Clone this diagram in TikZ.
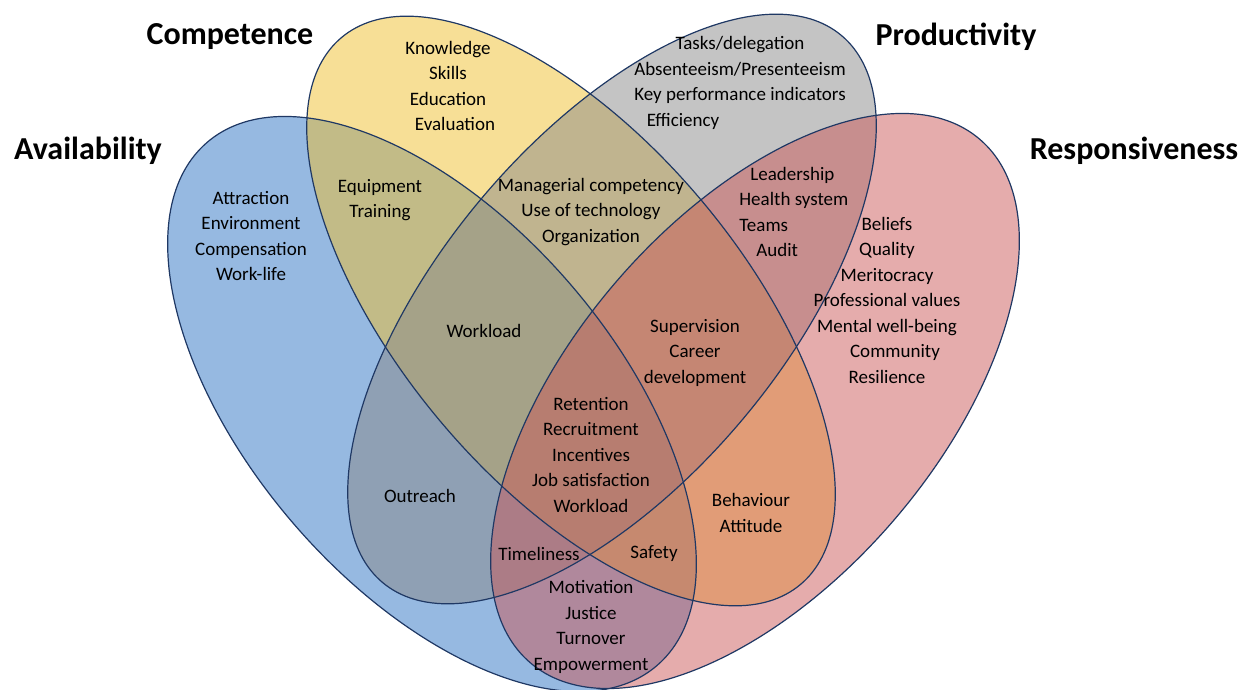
\documentclass[tikz,border=0pt]{standalone}
\usepackage{fontspec}
\setmainfont{Carlito}
\usepackage{tikz}
\definecolor{availblue}{RGB}{45,115,195}
\definecolor{compyellow}{RGB}{239,191,45}
\definecolor{prodgray}{RGB}{137,137,137}
\definecolor{respred}{RGB}{203,89,89}
\definecolor{rim}{RGB}{31,56,100}
\pgfdeclarelayer{edgelayer}
\pgfdeclarelayer{nodelayer}
\pgfsetlayers{edgelayer,nodelayer,main}
\tikzstyle{petal}=[fill opacity=0.5]
\tikzstyle{rimline}=[draw=rim, line width=0.6pt]
\tikzstyle{item}=[align=center, inner sep=0pt, font=\fontsize{9.5pt}{12.75pt}\selectfont]
\tikzstyle{head}=[inner sep=0pt, font=\bfseries\fontsize{16pt}{19pt}\selectfont]

\begin{document}
\begin{tikzpicture}[x=0.5pt, y=0.5pt]
        \useasboundingbox (0, 0) rectangle (1258, 690);
        \begin{pgfonlayer}{nodelayer}
            \node [style = head] (avail) at (88, 539) {Availability};
            \node [style = head] (comp) at (230, 653) {Competence};
            \node [style = head] (prod) at (956, 653) {Productivity};
            \node [style = head] (resp) at (1134, 539) {Responsiveness};

            \node [style = item] (know) at (448, 604) {Knowledge\\Skills\\Education\\\hspace*{7pt}Evaluation};
            \node [style = item] (tasks) at (740, 607) {Tasks/delegation\\Absenteeism/Presenteeism\\Key performance indicators\\Efficiency\hspace*{57pt}};
            \node [style = item] (attr) at (251, 454) {Attraction\\Environment\\Compensation\\Work-life};
            \node [style = item] (equip) at (380, 490) {Equipment\\Training};
            \node [style = item] (manag) at (591, 478) {Managerial competency\\Use of technology\\Organization};
            \node [style = item, align=left, anchor=west] (lead) at (739, 478) {\hspace*{5.5pt}Leadership\\Health system\\Teams\\\hspace*{8.5pt}Audit};
            \node [style = item] (beliefs) at (887, 390) {Beliefs\\Quality\\Meritocracy\hspace*{14pt}\\Professional values\\Mental well-being\\\hspace*{8pt}Community\\Resilience};

            \node [style = item] (work) at (484, 359) {Workload};
            \node [style = item] (superv) at (695, 337) {Supervision\\Career\\development};
            \node [style = item] (reten) at (591, 235) {Retention\\Recruitment\\Incentives\\Job satisfaction\\Workload};
            \node [style = item] (outr) at (420, 194) {Outreach};
            \node [style = item] (behav) at (751, 177) {Behaviour\\Attitude};
            \node [style = item] (timel) at (539, 136) {Timeliness};
            \node [style = item] (safe) at (654, 136) {Safety};
            \node [style = item] (motiv) at (591, 63) {Motivation\\Justice\\Turnover\\Empowerment};
        \end{pgfonlayer}

        \begin{pgfonlayer}{edgelayer}
            \fill [petal, availblue, rotate around={-49.3:(432, 286)}] (432, 286) ellipse [x radius=345, y radius=183];
            \fill [petal, compyellow, rotate around={-50:(571, 379)}] (571, 379) ellipse [x radius=357, y radius=171];
            \fill [petal, prodgray, rotate around={50:(612, 381)}] (612, 381) ellipse [x radius=357, y radius=171];
            \fill [petal, respred, rotate around={49.3:(755, 289)}] (755, 289) ellipse [x radius=345, y radius=183];

            \draw [rimline, rotate around={-49.3:(432, 286)}] (432, 286) ellipse [x radius=345, y radius=183];
            \draw [rimline, rotate around={-50:(571, 379)}] (571, 379) ellipse [x radius=357, y radius=171];
            \draw [rimline, rotate around={50:(612, 381)}] (612, 381) ellipse [x radius=357, y radius=171];
            \draw [rimline, rotate around={49.3:(755, 289)}] (755, 289) ellipse [x radius=345, y radius=183];
        \end{pgfonlayer}
    \end{tikzpicture}
\end{document}
